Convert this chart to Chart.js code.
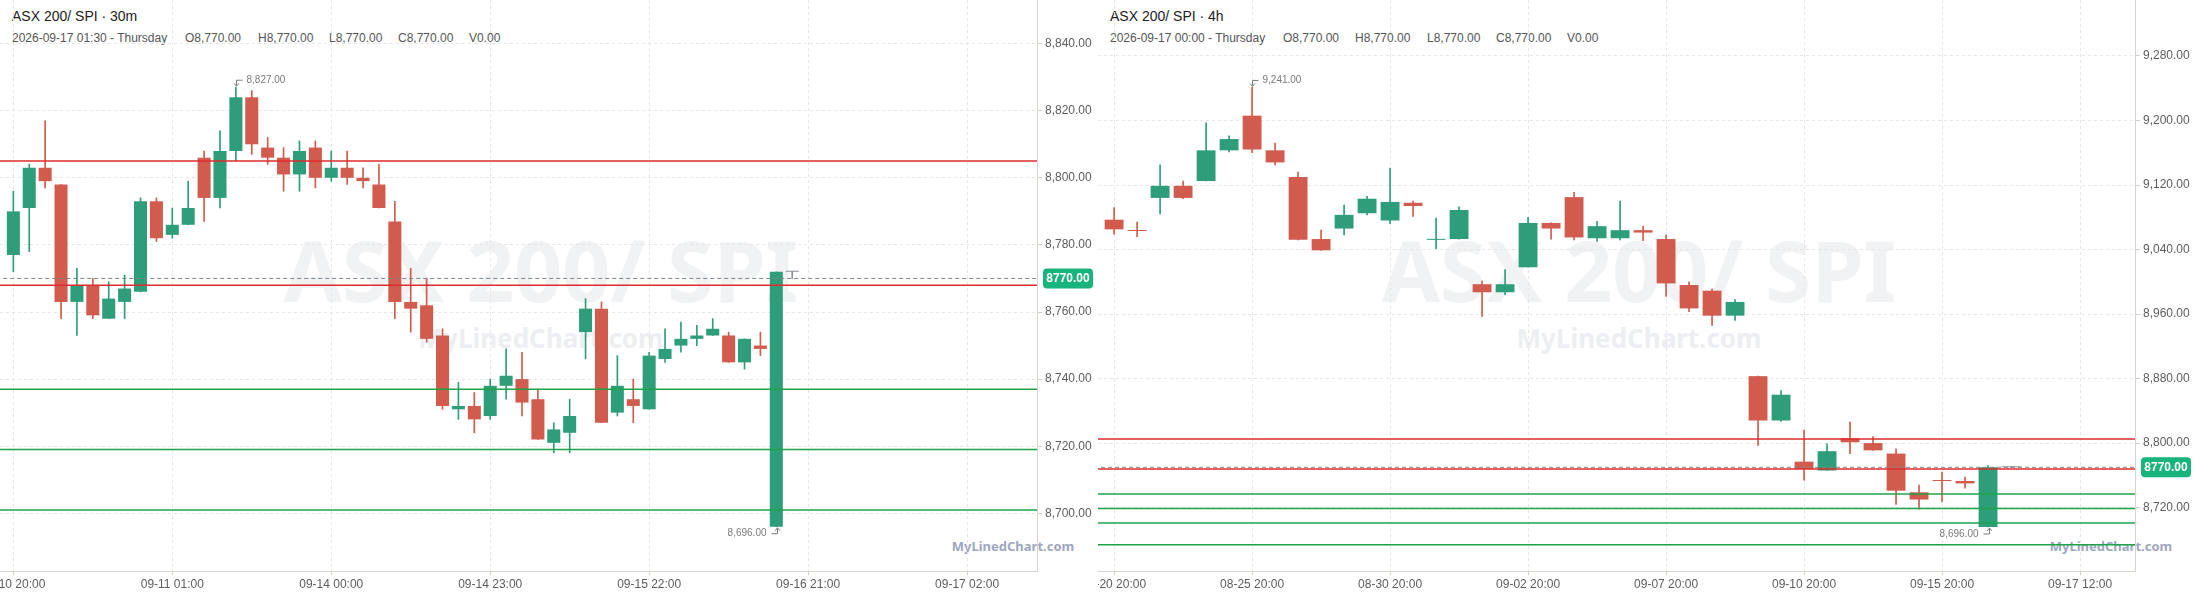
<!DOCTYPE html>
<html>
<head>
<meta charset="utf-8">
<script src="https://cdn.jsdelivr.net/npm/chart.js@4.4.1/dist/chart.umd.min.js"></script>
<style>
  html, body { margin: 0; padding: 0; background: #fff; }
  body { width: 2196px; height: 597px; position: relative; overflow: hidden; font-family: "Liberation Sans", Arial, sans-serif; }
  .panel { position: absolute; top: 0; width: 1098px; height: 597px; overflow: hidden; }
  .panel canvas { position: absolute; top: 0; left: -50px; }
  .wm { position: absolute; white-space: nowrap; font-family: "Noto Sans", sans-serif; font-weight: 700; transform: translate(-50%, -50%); line-height: 1; }
  .wm.big { left: 541px; top: 270px; font-size: 84px; color: #f1f2f4; }
  .wm.mid { left: 541px; top: 338px; font-size: 26px; color: #eceef2; }
  .wm.small { left: 1013px; top: 546px; font-size: 13px; color: #9ea7bf; }
  .title { position: absolute; left: 12px; top: 8px; font-size: 14px; line-height: 16px; color: #222; white-space: nowrap; }
  .sub { position: absolute; top: 31px; font-size: 12px; line-height: 14px; color: #555; white-space: nowrap; }
</style>
</head>
<body>

<div class="panel" style="left:0">
  <div class="wm big">ASX 200/ SPI</div>
  <div class="wm mid">MyLinedChart.com</div>
  <div class="wm small">MyLinedChart.com</div>
  <div class="title">ASX 200/ SPI · 30m</div>
  <div class="sub" style="left:12px">2026-09-17 01:30 - Thursday</div>
  <div class="sub" style="left:185px">O8,770.00</div>
  <div class="sub" style="left:258px">H8,770.00</div>
  <div class="sub" style="left:329px">L8,770.00</div>
  <div class="sub" style="left:398px">C8,770.00</div>
  <div class="sub" style="left:469px">V0.00</div>
  <canvas id="m30Chart" width="1148" height="597"></canvas>
</div>

<div class="panel" style="left:1098px">
  <div class="wm big">ASX 200/ SPI</div>
  <div class="wm mid">MyLinedChart.com</div>
  <div class="wm small">MyLinedChart.com</div>
  <div class="title">ASX 200/ SPI · 4h</div>
  <div class="sub" style="left:12px">2026-09-17 00:00 - Thursday</div>
  <div class="sub" style="left:185px">O8,770.00</div>
  <div class="sub" style="left:257px">H8,770.00</div>
  <div class="sub" style="left:329px">L8,770.00</div>
  <div class="sub" style="left:398px">C8,770.00</div>
  <div class="sub" style="left:469px">V0.00</div>
  <canvas id="h4Chart" width="1148" height="597"></canvas>
</div>

<script>
// 30m candles
var m30Open  = [8777,8791,8803,8798,8763,8768,8758,8763,8766,8793,8783,8786,8806,8794,8808,8824,8809,8806,8801,8809,8800,8803,8800,8798,8787,8763,8762,8753,8731,8732,8729,8738,8740,8734,8721,8724,8754,8761,8730,8734,8731,8746,8750,8752,8753,8753,8745,8750,8696,8772];
var m30High  = [8796,8804,8817,8798,8773,8770,8769,8771,8794,8794,8791,8799,8808,8814,8827,8826,8812,8809,8811,8811,8808,8808,8803,8804,8793,8773,8770,8755,8739,8736,8740,8749,8748,8737,8727,8734,8764,8763,8747,8740,8748,8755,8757,8756,8758,8754,8752,8754,8772,8772];
var m30Low   = [8772,8778,8797,8758,8753,8758,8758,8758,8766,8781,8782,8786,8787,8791,8805,8807,8804,8796,8796,8797,8799,8798,8797,8791,8758,8754,8751,8731,8728,8724,8728,8734,8729,8722,8718,8718,8746,8727,8729,8727,8731,8745,8748,8750,8753,8745,8743,8747,8696,8770];
var m30Close = [8790,8803,8799,8763,8768,8759,8764,8767,8793,8782,8786,8791,8794,8808,8824,8810,8806,8801,8808,8800,8803,8800,8799,8791,8763,8761,8752,8732,8732,8728,8738,8741,8733,8722,8725,8729,8761,8727,8738,8732,8747,8749,8752,8753,8755,8745,8752,8749,8772,8772];
var m30TickIdx = [0, 10, 20, 30, 40, 50, 60];
var m30Labels = ["09-10 20:00", "09-11 01:00", "09-14 00:00", "09-14 23:00", "09-15 22:00", "09-16 21:00", "09-17 02:00"];
var m30PriceTicks = [8700, 8720, 8740, 8760, 8780, 8800, 8820, 8840];

// 4h candles
var h4Open  = [9077,9064,9104,9119,9125,9163,9206,9163,9130,9053,9066,9085,9076,9098,9052,9053,8997,8987,9018,9073,9105,9054,9054,9064,9053,8996,8989,8958,8883,8828,8777,8766,8806,8800,8787,8739,8754,8753,8696,8770];
var h4High  = [9092,9074,9145,9125,9197,9181,9241,9172,9136,9064,9095,9106,9141,9100,9079,9093,9001,9015,9080,9073,9111,9075,9100,9069,9058,9000,8991,8978,8883,8865,8816,8799,8826,8808,8793,8748,8764,8758,8772,8770];
var h4Low   = [9059,9056,9084,9103,9125,9161,9160,9145,9052,9039,9058,9083,9072,9081,9041,9053,8957,8984,9018,9053,9052,9050,9052,9051,8982,8963,8946,8952,8797,8827,8754,8766,8787,8791,8724,8718,8727,8744,8696,8770];
var h4Close = [9065,9063,9119,9104,9163,9177,9164,9148,9052,9039,9083,9103,9099,9094,9053,9089,8987,8997,9073,9066,9055,9069,9064,9061,8998,8967,8958,8975,8828,8860,8768,8790,8801,8791,8741,8730,8753,8750,8770,8770];
var h4TickIdx = [0, 6, 12, 18, 24, 30, 36, 42];
var h4Labels = ["08-20 20:00", "08-25 20:00", "08-30 20:00", "09-02 20:00", "09-07 20:00", "09-10 20:00", "09-15 20:00", "09-17 12:00"];
var h4PriceTicks = [8720, 8800, 8880, 8960, 9040, 9120, 9200, 9280];

// price levels
var redLevels = [8805, 8768];
var greenLevels = [8737, 8719, 8701, 8674];
var lastPrice = 8770;

var UP = '#2e9e7a', DOWN = '#d15b4c', FLAT = '#8a8f98';
var fmt = function (v) { return v.toLocaleString('en-US', {minimumFractionDigits: 2, maximumFractionDigits: 2}); };

function markers(p) {
  return {
    id: 'markers',
    afterDatasetsDraw: function (chart) {
      var ctx = chart.ctx, xs = chart.scales.x, ys = chart.scales.y;
      var hi = Math.max.apply(null, p.high), iHi = p.high.indexOf(hi);
      var lo = Math.min.apply(null, p.low), iLo = p.low.indexOf(lo);
      ctx.save();
      ctx.strokeStyle = '#7a7a7a'; ctx.fillStyle = '#7a7a7a'; ctx.lineWidth = 1;
      ctx.font = '10px "Liberation Sans", Arial, sans-serif';
      ctx.textBaseline = 'middle';
      // highest high
      var x = Math.round(xs.getPixelForValue(iHi)) + 0.5, y = ys.getPixelForValue(hi);
      ctx.beginPath(); ctx.moveTo(x + 6, y - 7); ctx.lineTo(x, y - 7); ctx.lineTo(x, y - 1.5); ctx.stroke();
      ctx.beginPath(); ctx.moveTo(x - 2.5, y - 4); ctx.lineTo(x, y - 1); ctx.lineTo(x + 2.5, y - 4); ctx.stroke();
      ctx.textAlign = 'left';
      ctx.fillText(fmt(hi), x + 10, y - 7);
      // lowest low
      x = Math.round(xs.getPixelForValue(iLo)) + 1.5; y = ys.getPixelForValue(lo);
      ctx.beginPath(); ctx.moveTo(x - 6, y + 7); ctx.lineTo(x, y + 7); ctx.lineTo(x, y + 1.5); ctx.stroke();
      ctx.beginPath(); ctx.moveTo(x - 2.5, y + 4); ctx.lineTo(x, y + 1); ctx.lineTo(x + 2.5, y + 4); ctx.stroke();
      ctx.textAlign = 'right';
      ctx.fillText(fmt(lo), x - 11, y + 7);
      ctx.restore();
    },
    afterDraw: function (chart) {
      var ctx = chart.ctx, ys = chart.scales.y;
      var yy = ys.getPixelForValue(lastPrice);
      var x0 = chart.chartArea.right + 6, w = 50, h = 20;
      ctx.save();
      ctx.fillStyle = '#19b47c';
      ctx.beginPath(); ctx.roundRect(x0, yy - h / 2, w, h, 4); ctx.fill();
      ctx.fillStyle = '#fff';
      ctx.font = 'bold 12px "Liberation Sans", Arial, sans-serif';
      ctx.textAlign = 'center'; ctx.textBaseline = 'middle';
      ctx.fillText(lastPrice.toFixed(2), x0 + w / 2, yy + 0.5);
      ctx.restore();
    }
  };
}

function candleChart(id, p) {
  var color = p.open.map(function (o, i) { return p.close[i] > o ? UP : (p.close[i] < o ? DOWN : FLAT); });
  var level = function (v, c, dash) {
    return {
      type: 'line', order: 0,
      data: [{x: p.xMin - 2, y: v}, {x: p.xMax + 2, y: v}],
      borderColor: c, borderWidth: dash ? 1 : 1.5, borderDash: dash || [],
      pointRadius: 0, fill: false
    };
  };
  var datasets = [];
  redLevels.forEach(function (v) { datasets.push(level(v, '#de2b2b')); });
  greenLevels.forEach(function (v) { datasets.push(level(v, '#1da449')); });
  datasets.push(level(lastPrice, '#7d8590', [4, 3]));
  datasets.push({
    type: 'bar', order: 2, grouped: false,
    data: p.open.map(function (o, i) { return {x: i, y: [p.low[i], p.high[i]]}; }),
    backgroundColor: color, barThickness: 1, minBarLength: 1
  });
  datasets.push({
    type: 'bar', order: 1, grouped: false,
    data: p.open.map(function (o, i) { return {x: i, y: [o, p.close[i]]}; }),
    backgroundColor: color, barPercentage: 0.82, categoryPercentage: 1, minBarLength: 1
  });

  var tickFont = {family: '"Liberation Sans", Arial, sans-serif', size: 12};
  new Chart(document.getElementById(id).getContext('2d'), {
    type: 'bar',
    data: {datasets: datasets},
    options: {
      responsive: false,
      animation: false,
      layout: {padding: {left: 50, right: 0, top: 0, bottom: 0}},
      plugins: {legend: {display: false}, tooltip: {enabled: false}},
      scales: {
        x: {
          type: 'linear', min: p.xMin, max: p.xMax, offset: false,
          afterBuildTicks: function (s) { s.ticks = p.tickIdx.map(function (v) { return {value: v}; }); },
          afterFit: function (s) { s.height = 26; s.paddingLeft = 0; s.paddingRight = 0; },
          ticks: {autoSkip: false, maxRotation: 0, padding: 2, color: '#5c5c5c', font: tickFont,
                  callback: function (v, i) { return p.labels[i]; }},
          grid: {color: '#e6e6e6', offset: false, tickLength: 4, tickColor: '#d3cec8'},
          border: {color: '#d8d3cd', dash: [3, 3]}
        },
        y: {
          type: 'linear', position: 'right', min: p.yMin, max: p.yMax,
          afterBuildTicks: function (s) { s.ticks = p.priceTicks.map(function (v) { return {value: v}; }); },
          afterFit: function (s) { s.width = 61; s.paddingTop = 0; s.paddingBottom = 0; },
          ticks: {padding: 3, color: '#5c5c5c', font: tickFont, callback: function (v) { return fmt(v); }},
          grid: {color: '#e6e6e6', tickLength: 5, tickColor: '#d3cec8'},
          border: {color: '#d8d3cd', dash: [3, 3]}
        }
      }
    },
    plugins: [markers(p)]
  });
}

candleChart('m30Chart', {
  open: m30Open, high: m30High, low: m30Low, close: m30Close,
  tickIdx: m30TickIdx, labels: m30Labels, priceTicks: m30PriceTicks,
  xMin: -0.84, xMax: 64.4, yMin: 8682.8, yMax: 8853.0
});
candleChart('h4Chart', {
  open: h4Open, high: h4High, low: h4Low, close: h4Close,
  tickIdx: h4TickIdx, labels: h4Labels, priceTicks: h4PriceTicks,
  xMin: -0.70, xMax: 44.39, yMin: 8641.4, yMax: 9349.4
});
</script>
</body>
</html>
